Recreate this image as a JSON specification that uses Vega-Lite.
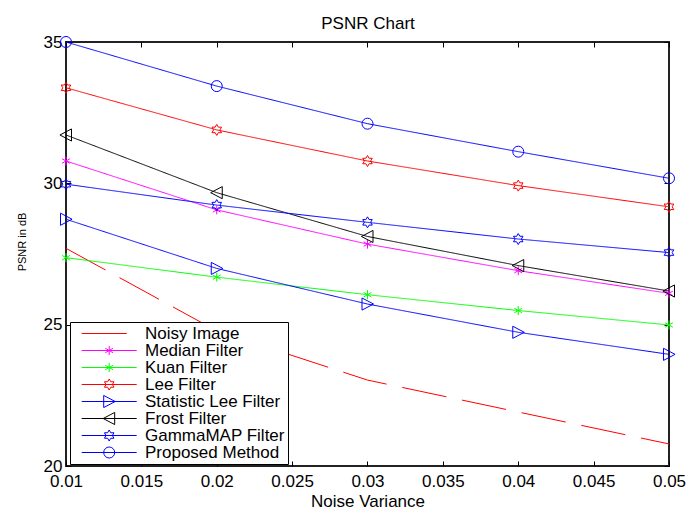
{
  "$schema": "https://vega.github.io/schema/vega-lite/v6.json",
  "autosize": "none",
  "width": 603,
  "height": 424,
  "padding": {"left": 66, "top": 42, "right": 19, "bottom": 42},
  "background": "white",
  "config": {
    "font": "Liberation Sans, Arial, sans-serif",
    "view": {"stroke": "#222222", "strokeWidth": 2},
    "axis": {
      "labelFont": "Liberation Sans, Arial, sans-serif",
      "titleFont": "Liberation Sans, Arial, sans-serif",
      "labelColor": "black",
      "titleColor": "black",
      "tickColor": "black",
      "labelFontSize": 17,
      "titleFontSize": 17,
      "titleFontWeight": "normal",
      "grid": false,
      "domain": false,
      "tickSize": -5,
      "labelFlush": false,
      "labelOverlap": false,
      "labelBound": false
    },
    "legend": {
      "title": null,
      "orient": "none",
      "legendX": 4,
      "legendY": 280,
      "padding": 3,
      "strokeColor": "black",
      "fillColor": "white",
      "cornerRadius": 0,
      "labelFontSize": 17,
      "labelColor": "black",
      "labelFont": "Liberation Sans, Arial, sans-serif",
      "symbolSize": 144,
      "rowPadding": -1.2,
      "symbolOffset": 27.7,
      "labelOffset": 27.3,
      "symbolStrokeWidth": 1
    }
  },
  "data": {
    "values": [
      {"v": 0.01, "psnr": 27.70, "series": "Noisy Image"},
      {"v": 0.02, "psnr": 24.78, "series": "Noisy Image"},
      {"v": 0.03, "psnr": 23.04, "series": "Noisy Image"},
      {"v": 0.04, "psnr": 21.91, "series": "Noisy Image"},
      {"v": 0.05, "psnr": 20.78, "series": "Noisy Image"},
      {"v": 0.01, "psnr": 30.79, "series": "Median Filter"},
      {"v": 0.02, "psnr": 29.06, "series": "Median Filter"},
      {"v": 0.03, "psnr": 27.85, "series": "Median Filter"},
      {"v": 0.04, "psnr": 26.91, "series": "Median Filter"},
      {"v": 0.05, "psnr": 26.11, "series": "Median Filter"},
      {"v": 0.01, "psnr": 27.37, "series": "Kuan Filter"},
      {"v": 0.02, "psnr": 26.68, "series": "Kuan Filter"},
      {"v": 0.03, "psnr": 26.06, "series": "Kuan Filter"},
      {"v": 0.04, "psnr": 25.50, "series": "Kuan Filter"},
      {"v": 0.05, "psnr": 24.99, "series": "Kuan Filter"},
      {"v": 0.01, "psnr": 33.38, "series": "Lee Filter"},
      {"v": 0.02, "psnr": 31.89, "series": "Lee Filter"},
      {"v": 0.03, "psnr": 30.79, "series": "Lee Filter"},
      {"v": 0.04, "psnr": 29.92, "series": "Lee Filter"},
      {"v": 0.05, "psnr": 29.17, "series": "Lee Filter"},
      {"v": 0.01, "psnr": 28.73, "series": "Statistic Lee Filter"},
      {"v": 0.02, "psnr": 26.99, "series": "Statistic Lee Filter"},
      {"v": 0.03, "psnr": 25.73, "series": "Statistic Lee Filter"},
      {"v": 0.04, "psnr": 24.73, "series": "Statistic Lee Filter"},
      {"v": 0.05, "psnr": 23.95, "series": "Statistic Lee Filter"},
      {"v": 0.01, "psnr": 31.71, "series": "Frost Filter"},
      {"v": 0.02, "psnr": 29.67, "series": "Frost Filter"},
      {"v": 0.03, "psnr": 28.12, "series": "Frost Filter"},
      {"v": 0.04, "psnr": 27.09, "series": "Frost Filter"},
      {"v": 0.05, "psnr": 26.19, "series": "Frost Filter"},
      {"v": 0.01, "psnr": 29.97, "series": "GammaMAP Filter"},
      {"v": 0.02, "psnr": 29.23, "series": "GammaMAP Filter"},
      {"v": 0.03, "psnr": 28.62, "series": "GammaMAP Filter"},
      {"v": 0.04, "psnr": 28.03, "series": "GammaMAP Filter"},
      {"v": 0.05, "psnr": 27.55, "series": "GammaMAP Filter"},
      {"v": 0.01, "psnr": 35.00, "series": "Proposed Method"},
      {"v": 0.02, "psnr": 33.44, "series": "Proposed Method"},
      {"v": 0.03, "psnr": 32.11, "series": "Proposed Method"},
      {"v": 0.04, "psnr": 31.12, "series": "Proposed Method"},
      {"v": 0.05, "psnr": 30.18, "series": "Proposed Method"}
    ]
  },
  "resolve": {"axis": {"x": "independent", "y": "independent"}},
  "layer": [
    {
      "mark": {"type": "line", "strokeWidth": 1, "clip": false},
      "encoding": {
        "x": {
          "field": "v", "type": "quantitative",
          "scale": {"domain": [0.01, 0.05], "nice": false, "zero": false},
          "axis": {
            "orient": "bottom",
            "values": [0.01, 0.015, 0.02, 0.025, 0.03, 0.035, 0.04, 0.045, 0.05],
            "format": "~g",
            "labelPadding": 12,
            "title": "Noise Variance",
            "titleY": 40,
            "titleBaseline": "alphabetic"
          }
        },
        "y": {
          "field": "psnr", "type": "quantitative",
          "scale": {"domain": [20, 35], "nice": false, "zero": false},
          "axis": {
            "orient": "left",
            "values": [20, 25, 30, 35],
            "labelPadding": 9,
            "title": "PSNR in dB",
            "titleFontSize": 11,
            "titleAngle": -90,
            "titleX": -41,
            "titleY": 199.5,
            "titleAlign": "center",
            "titleBaseline": "alphabetic"
          }
        },
        "color": {
          "field": "series", "type": "nominal",
          "scale": {
            "domain": ["Noisy Image", "Median Filter", "Kuan Filter", "Lee Filter", "Statistic Lee Filter", "Frost Filter", "GammaMAP Filter", "Proposed Method"],
            "range": ["#ff0000", "#ff00ff", "#00ff00", "#ff0000", "#0000ff", "#000000", "#0000ff", "#0000ff"]
          },
          "legend": {
            "values": ["Noisy Image", "Median Filter", "Kuan Filter", "Lee Filter", "Statistic Lee Filter", "Frost Filter", "GammaMAP Filter", "Proposed Method"],
            "encode": {
              "symbols": {
                "update": {
                  "fill": {"value": "transparent"},
                  "strokeWidth": {"value": 1},
                  "opacity": {"value": 1},
                  "shape": {"signal": "datum.value === 'Noisy Image' ? 'M-4.583,0H2.917' : (datum.value === 'Median Filter' || datum.value === 'Kuan Filter') ? 'M-4.583,0H4.583M0,-0.752V0.752M-0.651,-0.376L0.651,0.376M-0.651,0.376L0.651,-0.376' : (datum.value === 'Lee Filter' || datum.value === 'GammaMAP Filter') ? 'M-4.583,0H4.583M0,-0.917L0.265,-0.458L0.794,-0.458L0.529,0L0.794,0.458L0.265,0.458L0,0.917L-0.265,0.458L-0.794,0.458L-0.529,0L-0.794,-0.458L-0.265,-0.458Z' : datum.value === 'Statistic Lee Filter' ? 'M-4.583,0H4.583M-0.917,-1.008L1.008,0L-0.917,1.008Z' : datum.value === 'Frost Filter' ? 'M-4.583,0H4.583M0.917,-1.008L-1.008,0L0.917,1.008Z' : 'M-4.583,0H4.583M0.917,0A0.917,0.917,0,1,1,-0.917,0A0.917,0.917,0,1,1,0.917,0'"}
                }
              }
            }
          }
        },
        "strokeDash": {
          "field": "series", "type": "nominal",
          "scale": {
            "range": [[1, 0], [1, 0], [1, 0], [1, 0], [1, 0], [45, 16], [1, 0], [1, 0]]
          },
          "legend": null
        }
      }
    },
    {
      "transform": [{"filter": "datum.series === 'Median Filter' || datum.series === 'Kuan Filter'"}],
      "mark": {"type": "point", "filled": false, "strokeWidth": 1, "size": 121, "opacity": 1, "clip": false, "shape": "M0,-0.82V0.82M-0.71,-0.41L0.71,0.41M-0.71,0.41L0.71,-0.41"},
      "encoding": {
        "x": {"field": "v", "type": "quantitative", "axis": null},
        "y": {"field": "psnr", "type": "quantitative", "axis": null},
        "color": {"field": "series", "type": "nominal"}
      }
    },
    {
      "transform": [{"filter": "datum.series === 'Lee Filter' || datum.series === 'GammaMAP Filter'"}],
      "mark": {"type": "point", "filled": false, "strokeWidth": 1, "size": 121, "opacity": 1, "clip": false, "shape": "M0,-1L0.289,-0.5L0.866,-0.5L0.577,0L0.866,0.5L0.289,0.5L0,1L-0.289,0.5L-0.866,0.5L-0.577,0L-0.866,-0.5L-0.289,-0.5Z"},
      "encoding": {
        "x": {"field": "v", "type": "quantitative", "axis": null},
        "y": {"field": "psnr", "type": "quantitative", "axis": null},
        "color": {"field": "series", "type": "nominal"}
      }
    },
    {
      "transform": [{"filter": "datum.series === 'Statistic Lee Filter'"}],
      "mark": {"type": "point", "filled": false, "strokeWidth": 1, "size": 121, "opacity": 1, "clip": false, "shape": "M-1,-1.1L1.1,0L-1,1.1Z"},
      "encoding": {
        "x": {"field": "v", "type": "quantitative", "axis": null},
        "y": {"field": "psnr", "type": "quantitative", "axis": null},
        "color": {"field": "series", "type": "nominal"}
      }
    },
    {
      "transform": [{"filter": "datum.series === 'Frost Filter'"}],
      "mark": {"type": "point", "filled": false, "strokeWidth": 1, "size": 121, "opacity": 1, "clip": false, "shape": "M1,-1.1L-1.1,0L1,1.1Z"},
      "encoding": {
        "x": {"field": "v", "type": "quantitative", "axis": null},
        "y": {"field": "psnr", "type": "quantitative", "axis": null},
        "color": {"field": "series", "type": "nominal"}
      }
    },
    {
      "transform": [{"filter": "datum.series === 'Proposed Method'"}],
      "mark": {"type": "point", "filled": false, "strokeWidth": 1, "size": 121, "opacity": 1, "clip": false, "shape": "M1,0A1,1,0,1,1,-1,0A1,1,0,1,1,1,0"},
      "encoding": {
        "x": {
          "field": "v", "type": "quantitative",
          "axis": {
            "orient": "top",
            "values": [0.01, 0.015, 0.02, 0.025, 0.03, 0.035, 0.04, 0.045, 0.05],
            "labels": false,
            "title": "PSNR Chart",
            "titleY": -14,
            "titleBaseline": "alphabetic"
          }
        },
        "y": {
          "field": "psnr", "type": "quantitative",
          "axis": {
            "orient": "right",
            "values": [20, 25, 30, 35],
            "labels": false,
            "title": null
          }
        },
        "color": {"field": "series", "type": "nominal"}
      }
    }
  ]
}
